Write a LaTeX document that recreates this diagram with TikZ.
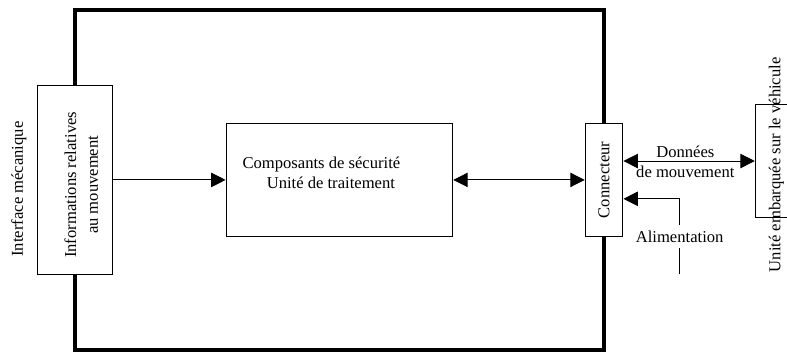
\documentclass[tikz,border=0pt]{standalone}
\usepackage{fontspec}
\setmainfont{Liberation Serif}
\usetikzlibrary{arrows.meta, positioning}
\tikzset{
	boite/.style={draw, fill=white, line width=0.7pt, inner sep=0pt},
	texte/.style={font=\fontsize{12.5}{15}\selectfont, align=center},
	fleche/.style={-{Triangle[length=3.8mm,width=3.8mm]}, line width=0.7pt},
	dfleche/.style={{Triangle[length=3.8mm,width=3.8mm]}-{Triangle[length=3.8mm,width=3.8mm]}, line width=0.7pt}
}
\begin{document}
\begin{tikzpicture}
		\useasboundingbox (0.02,-0.03) rectangle (20.84,9.26);
		\clip (0.02,-0.03) rectangle (20.84,9.26);
		% cadre
		\draw[line width=3pt] (2,0) rectangle (16,9);
		
		\draw (2cm, 4.5cm) node[boite, minimum width=2cm, minimum height=5cm] (info) {}
		(9cm, 4.5cm) node[boite, minimum width=6cm, minimum height=3cm] (trait) {}
		(16cm, 4.5cm) node[boite, minimum width=1cm, minimum height=3cm] (conn) {}
		(20.5cm, 5cm) node[boite, minimum width=1cm, minimum height=3cm] (vehicule) {};
		
		\node[texte, rotate=90] (interface) at (0.52,4.26) {Interface mécanique};
		\node[texte, rotate=90] (infotxt) at (2.17,4.37) {Informations relatives\\[1.5pt]au mouvement};
		\node[texte, align=left, anchor=west, inner sep=0pt] (traittxt) at (6.43,4.68) {Composants de sécurité\\\hspace*{0.64cm}Unité de traitement};
		\node[texte, rotate=90] (conntxt) at (conn) {Connecteur};
		\node[texte, rotate=90] (vehiculetxt) at (20.56,4.9) {Unité embarquée sur le véhicule};
		\node[texte] (donnees) at (18.15,4.98) {Données\\de mouvement};
		\node[texte, inner sep=4pt] (alim) at (18,3) {Alimentation};
		\coordinate (alimbas) at (18,2);
		\coordinate (alimhaut) at (18,4);
		
		\draw[fleche] (info) -- (trait);
		\draw[dfleche] (trait) -- (conn);
		\draw[dfleche] (conn.east |- vehicule.west) -- (vehicule.west);
		\draw[line width=0.7pt] (alimbas) -- (alim);
		\draw[fleche] (alim) |- (conn.east |- alimhaut);
\end{tikzpicture}
\end{document}
